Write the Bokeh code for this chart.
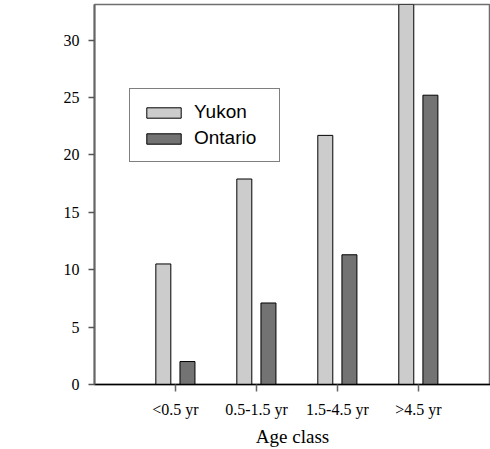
from bokeh.plotting import figure
from bokeh.models import Range1d, FixedTicker, ColumnDataSource, Legend, LegendItem
from bokeh.transform import dodge
from bokeh.embed import file_html
from bokeh.resources import INLINE

categories = ["<0.5 yr", "0.5-1.5 yr", "1.5-4.5 yr", ">4.5 yr"]
yukon = [10.5, 17.9, 21.7, 34.0]
ontario = [2.0, 7.1, 11.3, 25.2]
y_ticks = [0, 5, 10, 15, 20, 25, 30]

xs = list(range(len(categories)))
src = ColumnDataSource(dict(x=xs, yukon=yukon, ontario=ontario))

p = figure(width=490, height=449, output_backend="svg", toolbar_location=None,
           x_range=Range1d(-1.0, 3.89), y_range=Range1d(0, 33.1),
           min_border_left=94, min_border_right=0, min_border_top=4, min_border_bottom=64)
p.background_fill_color = "white"
p.border_fill_color = "white"
p.grid.visible = False
p.outline_line_color = "#6e6e6e"
p.outline_line_width = 1.5

r1 = p.vbar(x=dodge("x", -0.15), top="yukon", width=0.185, source=src,
            fill_color="#cccccc", line_color="black", line_width=1)
r2 = p.vbar(x=dodge("x", 0.148), top="ontario", width=0.185, source=src,
            fill_color="#737373", line_color="black", line_width=1)

xa = p.xaxis[0]
xa.ticker = FixedTicker(ticks=xs)
xa.major_label_overrides = {i: c for i, c in enumerate(categories)}
xa.axis_label = "Age class"
xa.axis_label_text_font = "Liberation Serif"
xa.axis_label_text_font_size = "19px"
xa.axis_label_text_font_style = "normal"
xa.axis_label_text_color = "black"
xa.axis_label_standoff = 5
xa.major_label_text_font = "Liberation Serif"
xa.major_label_text_font_size = "16px"
xa.major_label_text_color = "black"
xa.major_label_standoff = 9
xa.axis_line_color = "black"
xa.axis_line_width = 1.5
xa.major_tick_line_color = "#666666"
xa.major_tick_line_width = 1.5
xa.major_tick_in = 0
xa.major_tick_out = 7
xa.minor_tick_line_color = None

ya = p.yaxis[0]
ya.ticker = FixedTicker(ticks=y_ticks)
ya.major_label_text_font = "Liberation Serif"
ya.major_label_text_font_size = "16px"
ya.major_label_text_color = "black"
ya.major_label_standoff = 9
ya.axis_line_color = "#666666"
ya.axis_line_width = 2
ya.major_tick_line_color = "#555555"
ya.major_tick_line_width = 1.5
ya.major_tick_in = 0
ya.major_tick_out = 6
ya.minor_tick_line_color = None

legend = Legend(items=[LegendItem(label="Yukon", renderers=[r1]),
                       LegendItem(label="Ontario", renderers=[r2])],
                location=(35, 222))
legend.label_text_font = "Liberation Sans"
legend.label_text_font_size = "19px"
legend.label_text_color = "black"
legend.glyph_width = 43
legend.glyph_height = 13
legend.label_standoff = 9
legend.label_height = 20
legend.label_width = 73
legend.spacing = 4
legend.padding = 12
legend.margin = 0
legend.border_line_color = "black"
legend.border_line_width = 1
legend.background_fill_alpha = 1
p.add_layout(legend, "center")

open("out.html", "w").write(file_html(p, INLINE))
